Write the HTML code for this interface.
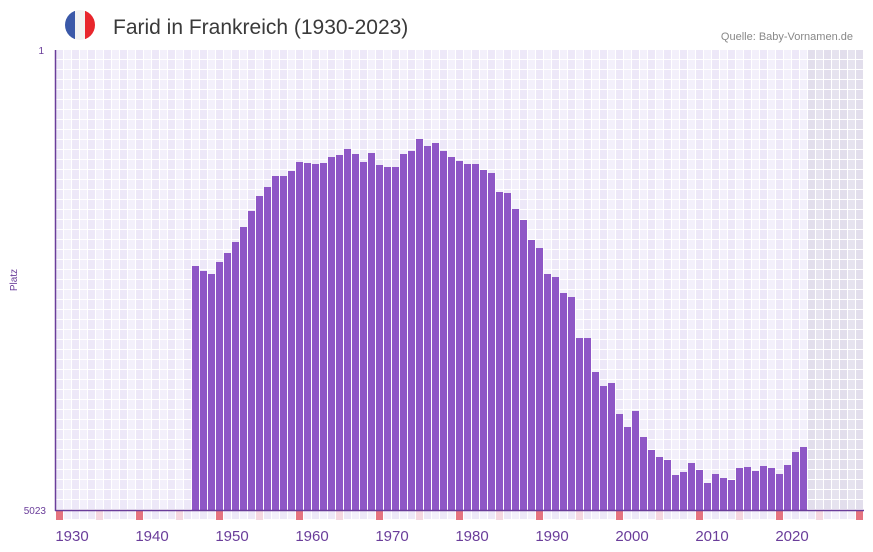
<!DOCTYPE html>
<html><head><meta charset="utf-8"><style>
html,body{margin:0;padding:0;background:#fff;}
svg{display:block;font-family:"Liberation Sans","DejaVu Sans",sans-serif;}
</style></head><body>
<svg width="873" height="552" viewBox="0 0 873 552" xmlns="http://www.w3.org/2000/svg">
<defs>
<pattern id="g" x="56" y="50" width="16" height="10" patternUnits="userSpaceOnUse">
<rect width="16" height="10" fill="#fff"/>
<rect x="0" y="0" width="7" height="9" fill="#ede8f8"/>
<rect x="8" y="0" width="7" height="9" fill="#f3f0fb"/>
</pattern>
<pattern id="gg" x="56" y="50" width="16" height="10" patternUnits="userSpaceOnUse">
<rect width="16" height="10" fill="#fff"/>
<rect x="0" y="0" width="7" height="9" fill="#e2deec"/>
<rect x="8" y="0" width="7" height="9" fill="#e6e3ef"/>
</pattern>
</defs>
<!-- header -->
<clipPath id="fc"><circle cx="80" cy="25" r="15"/></clipPath>
<g clip-path="url(#fc)"><rect x="65" y="10" width="10" height="30" fill="#3a58a8"/><rect x="75" y="10" width="10" height="30" fill="#f2f2f2"/><rect x="85" y="10" width="10" height="30" fill="#e8262c"/></g>
<text x="113" y="34" font-size="21" fill="#3a3a3a">Farid in Frankreich (1930-2023)</text>
<text x="853" y="40" font-size="11" fill="#888" text-anchor="end">Quelle: Baby-Vornamen.de</text>
<!-- grid -->
<rect x="56" y="50" width="752" height="460" fill="url(#g)"/>
<rect x="808" y="50" width="56" height="460" fill="url(#gg)"/>
<rect x="56" y="511" width="808" height="9" fill="url(#g)"/>
<g id="marks"></g>
<text x="44" y="54" font-size="10" fill="#6a3d9a" text-anchor="end">1</text>
<text x="46" y="514" font-size="10" fill="#6a3d9a" text-anchor="end">5023</text>
<text x="17" y="280" font-size="10" fill="#6a3d9a" text-anchor="middle" transform="rotate(-90 17 280)">Platz</text>
<g id="bars" fill="#8e57c6"></g>
<line x1="55.5" y1="50" x2="55.5" y2="511" stroke="#6a3d9a" stroke-width="1.5"/>
<line x1="55" y1="510.5" x2="864" y2="510.5" stroke="#6a3d9a" stroke-width="1.5"/>
<g id="lab" font-size="15" fill="#6a3d9a" text-anchor="middle"></g>
</svg>
<script>
var t=[266,271,274,262,253,242,227,211,196,187,176,176,171,162,163,164,163,157,155,149,154,162,153,165,167,167,154,151,139,146,143,151,157,161,164,164,170,173,192,193,209,220,240,248,274,277,293,297,338,338,372,386,383,414,427,411,437,450,457,460,475,472,463,470,483,474,478,480,468,467,471,466,468,474,465,452,447];
var ns="http://www.w3.org/2000/svg",b=document.getElementById("bars"),s="";
t.forEach(function(y,i){s+='<rect x="'+(192+8*i)+'" y="'+y+'" width="7" height="'+(510-y)+'"/>';});
b.innerHTML=s;
var m="";for(var i=0;i<=100;i+=5){m+='<rect x="'+(56+8*i)+'" y="511" width="7" height="9" fill="'+(i%10==0?'#e57480':'#f5d7e0')+'"/>';}
document.getElementById("marks").innerHTML=m;
var l="";for(var k=0;k<10;k++){l+='<text x="'+(72+80*k)+'" y="541">'+(1930+10*k)+'</text>';}
document.getElementById("lab").innerHTML=l;
</script>
</body></html>
